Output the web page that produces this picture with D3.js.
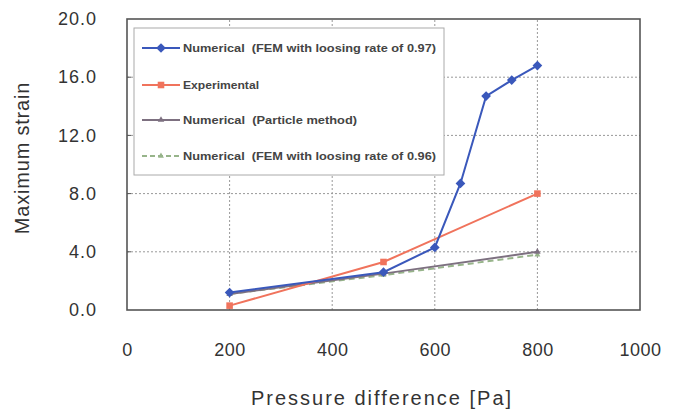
<!DOCTYPE html>
<html>
<head>
<meta charset="utf-8">
<script src="https://cdn.jsdelivr.net/npm/d3@7"></script>
<style>
body { margin: 0; background: #fff; }
svg { font-family: "Liberation Sans", Arial, sans-serif; }
</style>
</head>
<body>
<div id="chart"></div>
<script>
// values
var xTicks = [0, 200, 400, 600, 800, 1000]
var yTicks = [0, 4, 8, 12, 16, 20]

var femX = [200, 500, 600, 650, 700, 750, 800]
var femY = [1.2, 2.6, 4.3, 8.7, 14.7, 15.8, 16.8]
var expX = [200, 500, 800]
var expY = [0.3, 3.3, 8.0]
var partX = [200, 500, 800]
var partY = [1.1, 2.5, 4.0]
var fem96X = [200, 500, 800]
var fem96Y = [1.1, 2.4, 3.8]

var seriesNames = [
    "Numerical  (FEM with loosing rate of 0.97)",
    "Experimental",
    "Numerical  (Particle method)",
    "Numerical  (FEM with loosing rate of 0.96)"
]
// text widths in the legend (the original font is wide)
var legendTextWidth = [253, 76, 174, 253]

width = 683
height = 412
var margin = { top: 19, right: 43, bottom: 102, left: 127 }

var svg = d3.select("#chart").append("svg")
    .attr("width", width).attr("height", height)

var x = d3.scaleLinear().domain([0, 1000]).range([margin.left, width - margin.right])
var y = d3.scaleLinear().domain([0, 20]).range([height - margin.bottom, margin.top])

var series = [
    { name: seriesNames[0], xs: femX, ys: femY, color: "#3a58bb", marker: d3.symbolDiamond2, size: 60, dash: null },
    { name: seriesNames[1], xs: expX, ys: expY, color: "#f0735c", marker: d3.symbolSquare2, size: 55, dash: null },
    { name: seriesNames[2], xs: partX, ys: partY, color: "#7d7080", marker: d3.symbolTriangle2, size: 30, dash: null },
    { name: seriesNames[3], xs: fem96X, ys: fem96Y, color: "#97b48a", marker: d3.symbolTriangle2, size: 25, dash: "6,4" }
]

// grid (dotted)
svg.append("g").selectAll("line")
    .data(yTicks.slice(1, -1)).enter().append("line")
    .attr("x1", x(0)).attr("x2", x(1000))
    .attr("y1", d => y(d)).attr("y2", d => y(d))
    .attr("stroke", "#999").attr("stroke-dasharray", "2,2").attr("stroke-width", 1)
svg.append("g").selectAll("line")
    .data(xTicks.slice(1, -1)).enter().append("line")
    .attr("x1", d => x(d)).attr("x2", d => x(d))
    .attr("y1", y(0)).attr("y2", y(20))
    .attr("stroke", "#999").attr("stroke-dasharray", "2,2").attr("stroke-width", 1)

// axes, labels outside the frame
var xAxis = svg.append("g")
    .attr("transform", "translate(0," + (y(0) + 30) + ")")
    .call(d3.axisBottom(x).tickValues(xTicks).tickSize(0).tickFormat(d3.format("d")))
xAxis.select(".domain").remove()
xAxis.selectAll("text").attr("font-size", 18).attr("fill", "#333").style("letter-spacing", "0.5px")

var yAxis = svg.append("g")
    .attr("transform", "translate(" + (x(0) - 27) + ",0)")
    .call(d3.axisLeft(y).tickValues(yTicks).tickSize(0).tickFormat(d3.format(".1f")))
yAxis.select(".domain").remove()
yAxis.selectAll("text").attr("font-size", 18).attr("fill", "#333").style("letter-spacing", "1px")

// frame
svg.append("rect")
    .attr("x", x(0)).attr("y", y(20))
    .attr("width", x(1000) - x(0)).attr("height", y(0) - y(20))
    .attr("fill", "none").attr("stroke", "#555").attr("stroke-width", 1.6)

// small inward ticks
svg.append("g").selectAll("line")
    .data(yTicks.slice(1, -1)).enter().append("line")
    .attr("x1", x(0)).attr("x2", x(0) + 4)
    .attr("y1", d => y(d)).attr("y2", d => y(d))
    .attr("stroke", "#555")

// series
var line = d3.line().x(d => x(d[0])).y(d => y(d[1]))
series.slice().reverse().forEach(function (s) {
    var pts = s.xs.map((v, i) => [v, s.ys[i]])
    svg.append("path")
        .datum(pts)
        .attr("d", line)
        .attr("fill", "none")
        .attr("stroke", s.color)
        .attr("stroke-width", 2)
        .attr("stroke-dasharray", s.dash)
    svg.append("g").selectAll("path")
        .data(pts).enter().append("path")
        .attr("d", d3.symbol().type(s.marker).size(s.size))
        .attr("transform", d => "translate(" + x(d[0]) + "," + y(d[1]) + ")")
        .attr("fill", s.color)
})

// legend
var legend = svg.append("g")
legend.append("rect")
    .attr("x", 134).attr("y", 28).attr("width", 310).attr("height", 147)
    .attr("fill", "#fff").attr("stroke", "#aaa").attr("stroke-width", 1)
var legendY = [48, 85, 120, 156]
series.forEach(function (s, i) {
    var ly = legendY[i]
    legend.append("line")
        .attr("x1", 142).attr("x2", 180).attr("y1", ly).attr("y2", ly)
        .attr("stroke", s.color).attr("stroke-width", 2)
        .attr("stroke-dasharray", s.dash ? "5,3" : null)
    legend.append("path")
        .attr("d", d3.symbol().type(s.marker).size(s.size))
        .attr("transform", "translate(161," + ly + ")")
        .attr("fill", s.color)
    legend.append("text")
        .attr("x", 183).attr("y", ly + 4)
        .attr("font-size", 10.5).attr("font-weight", "bold").attr("fill", "#444")
        .attr("textLength", legendTextWidth[i]).attr("lengthAdjust", "spacingAndGlyphs")
        .style("white-space", "pre")
        .text(s.name)
})

// axis titles
svg.append("text")
    .attr("transform", "translate(29,158) rotate(-90)")
    .attr("text-anchor", "middle")
    .attr("font-size", 20).attr("fill", "#333").style("letter-spacing", "0.8px")
    .text("Maximum strain")
svg.append("text")
    .attr("x", 382).attr("y", 405)
    .attr("text-anchor", "middle")
    .attr("font-size", 20).attr("fill", "#333").style("letter-spacing", "2px")
    .text("Pressure difference [Pa]")
</script>
</body>
</html>
